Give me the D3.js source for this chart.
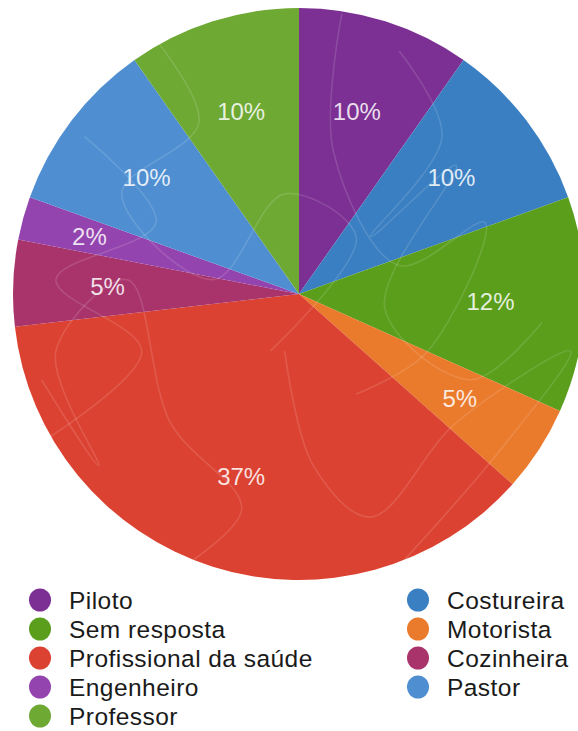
<!DOCTYPE html>
<html>
<head>
<meta charset="utf-8">
<script src="https://cdn.jsdelivr.net/npm/d3@7"></script>
<style>
  html, body { margin: 0; padding: 0; background: #ffffff; }
  svg { display: block; }
  text { font-family: "Liberation Sans", Arial, Helvetica, sans-serif; }
</style>
</head>
<body>
<svg id="chart" width="578" height="731"></svg>
<script>
// Occupations of respondents (counts), in clockwise order from 12 o'clock
const categories = ["Piloto", "Costureira", "Sem resposta", "Motorista",
  "Profissional da saúde", "Cozinheira", "Engenheiro", "Pastor", "Professor"];
const counts = [4, 4, 5, 2, 15, 2, 1, 4, 4];
const colors = ["#7c3093", "#3a7fc2", "#5a9e1c", "#ea7a2c",
  "#dc4232", "#a8346b", "#9444ae", "#4f8fd1", "#6ea934"];

// Legend layout: two columns, filled row by row
const legendLeft = ["Piloto", "Sem resposta", "Profissional da saúde", "Engenheiro", "Professor"];
const legendRight = ["Costureira", "Motorista", "Cozinheira", "Pastor"];

// Faint decorative scribble strokes over the pie, in unit-radius coordinates
const scribbles = [
  [[-0.55,-0.95],[-0.35,-0.6],[-0.62,-0.35],[-0.3,-0.05],[-0.05,-0.35],[0.2,-0.2],[-0.1,0.2]],
  [[0.35,-0.85],[0.5,-0.55],[0.25,-0.2],[0.55,-0.45],[0.3,0.05],[0.6,0.3],[0.85,0.1]],
  [[-0.9,0.3],[-0.7,0.6],[-0.85,0.2],[-0.6,-0.05],[-0.45,0.45],[-0.2,0.75],[-0.4,0.95]],
  [[-0.05,0.2],[0.05,0.6],[0.25,0.78],[0.55,0.45],[0.95,0.2],[0.7,0.55],[0.35,0.95]],
  [[0.15,-0.98],[0.12,-0.5],[0.35,-0.1],[0.65,-0.25],[0.45,0.2],[0.2,0.35]],
  [[-0.75,-0.55],[-0.5,-0.25],[-0.85,-0.05],[-0.55,0.2],[-0.95,0.55]]
];

const svg = d3.select("#chart");
const cx = 299, cy = 294, radius = 286;
const total = d3.sum(counts);
const data = categories.map((c, i) => ({ name: c, value: counts[i], color: colors[i] }));
const colorOf = d3.scaleOrdinal().domain(categories).range(colors);

const pie = d3.pie().value(d => d.value).sort(null);
const arc = d3.arc().innerRadius(0).outerRadius(radius);
const labelArc = d3.arc().innerRadius(radius * 0.67).outerRadius(radius * 0.67);
// very thin slices push their label further out so it stays readable
const thinLabelArc = d3.arc().innerRadius(radius * 0.76).outerRadius(radius * 0.76);
const pct = d3.format(".0%");

const g = svg.append("g").attr("transform", `translate(${cx},${cy})`);

svg.append("defs").append("clipPath").attr("id", "pieClip")
  .append("circle").attr("cx", cx).attr("cy", cy).attr("r", radius);

g.selectAll("path.slice")
  .data(pie(data))
  .join("path")
  .attr("class", "slice")
  .attr("d", arc)
  .attr("fill", d => d.data.color);

// texture strokes
const sx = d3.scaleLinear().domain([-1, 1]).range([-radius, radius]);
const line = d3.line().x(p => sx(p[0])).y(p => sx(p[1])).curve(d3.curveCatmullRom.alpha(0.5));
svg.append("g")
  .attr("clip-path", "url(#pieClip)")
  .append("g")
  .attr("transform", `translate(${cx},${cy})`)
  .selectAll("path")
  .data(scribbles)
  .join("path")
  .attr("d", line)
  .attr("fill", "none")
  .attr("stroke", "#ffffff")
  .attr("stroke-opacity", 0.13)
  .attr("stroke-width", 1.6);

g.selectAll("text.pct")
  .data(pie(data))
  .join("text")
  .attr("class", "pct")
  .attr("transform", d => {
    const a = (d.endAngle - d.startAngle) < 0.2 ? thinLabelArc : labelArc;
    return `translate(${a.centroid(d)})`;
  })
  .attr("text-anchor", "middle")
  .attr("dy", "0.36em")
  .attr("font-size", 24)
  .attr("fill", "#ffffff")
  .attr("fill-opacity", 0.85)
  .text(d => pct(d.data.value / total));

// Legend
const rowY = d3.scalePoint().domain(d3.range(5)).range([600, 716]);
function drawLegend(names, circleX, textX) {
  const items = svg.append("g").selectAll("g")
    .data(names)
    .join("g")
    .attr("transform", (d, i) => `translate(0,${rowY(i)})`);
  items.append("ellipse")
    .attr("cx", circleX).attr("cy", 0)
    .attr("rx", 11).attr("ry", 11.5)
    .attr("fill", d => colorOf(d));
  items.append("text")
    .attr("x", textX).attr("y", 0)
    .attr("dy", "0.35em")
    .attr("font-size", 24.5)
    .attr("letter-spacing", 0.45)
    .attr("fill", "#1a1a1a")
    .text(d => d);
}
drawLegend(legendLeft, 40, 69);
drawLegend(legendRight, 418, 447);
</script>
</body>
</html>
